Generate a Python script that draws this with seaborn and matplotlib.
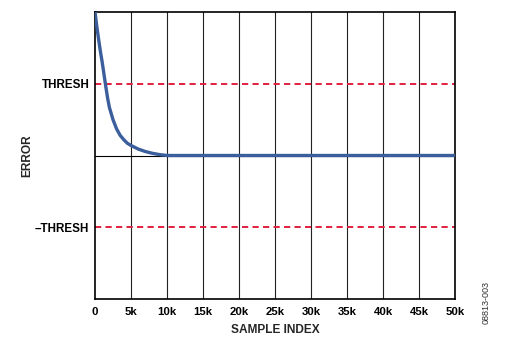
import matplotlib
matplotlib.use("Agg")
import matplotlib.pyplot as plt
import seaborn as sns
import pandas as pd

sns.set_theme(style="white")
plt.rcParams['font.family'] = ['Liberation Sans', 'DejaVu Sans']

# data (error in units of THRESH)
sample_index = [0, 250, 500, 750, 1000, 1250, 1500, 1750, 2000, 2500, 3000, 3500, 4000,
                4500, 5000, 6000, 7000, 8000, 9000, 10000, 20000, 30000, 40000, 50000]
error = [2.0, 1.8, 1.62, 1.45, 1.3, 1.13, 0.96, 0.8, 0.67, 0.5, 0.37, 0.28, 0.22,
         0.17, 0.14, 0.09, 0.055, 0.03, 0.012, 0.0, 0.0, 0.0, 0.0, 0.0]
thresh = 1.0
x_ticks = [0, 5000, 10000, 15000, 20000, 25000, 30000, 35000, 40000, 45000, 50000]
x_tick_labels = ["0", "5k", "10k", "15k", "20k", "25k", "30k", "35k", "40k", "45k", "50k"]
y_ticks = [-thresh, thresh]
y_tick_labels = ["\u2013THRESH", "THRESH"]

df = pd.DataFrame({"sample": sample_index, "error": error})

fig = plt.figure(figsize=(5.13, 3.39), dpi=100)
ax = fig.add_axes([95/513, 1-299/339, 360/513, 287/339])

for xv in x_ticks[1:-1]:
    ax.axvline(xv, color="#222222", lw=0.8, zorder=1)
ax.axhline(0, color="black", lw=0.8, zorder=1)
for yv in y_ticks:
    ax.axhline(yv, color="#e0203f", lw=1.4, ls=(0, (3.2, 2.2)), zorder=2)

sns.lineplot(data=df, x="sample", y="error", ax=ax, color="#3b5e9c", lw=2.4, zorder=3)

ax.set_xlim(0, 50000)
ax.set_ylim(-2, 2)
ax.set_xticks(x_ticks)
ax.set_xticklabels(x_tick_labels, fontsize=8.2, fontweight="bold")
ax.set_yticks(y_ticks)
ax.set_yticklabels(y_tick_labels, fontsize=8.4, fontweight="bold")
ax.tick_params(axis="both", length=0, pad=4, colors="black")
ax.tick_params(axis="x", pad=6)
for s in ax.spines.values():
    s.set_color("black")
    s.set_linewidth(1.2)
ax.set_xlabel("SAMPLE INDEX", fontsize=8.6, fontweight="bold", labelpad=5)
ax.set_ylabel("ERROR", fontsize=8.6, fontweight="bold")
ax.yaxis.set_label_coords(-0.172, 0.5)

fig.text(486/513, 1-303/339, "08813-003", rotation=90, fontsize=6.5,
         ha="center", va="center", color="#333333")

fig.savefig("out.png", dpi=100)
